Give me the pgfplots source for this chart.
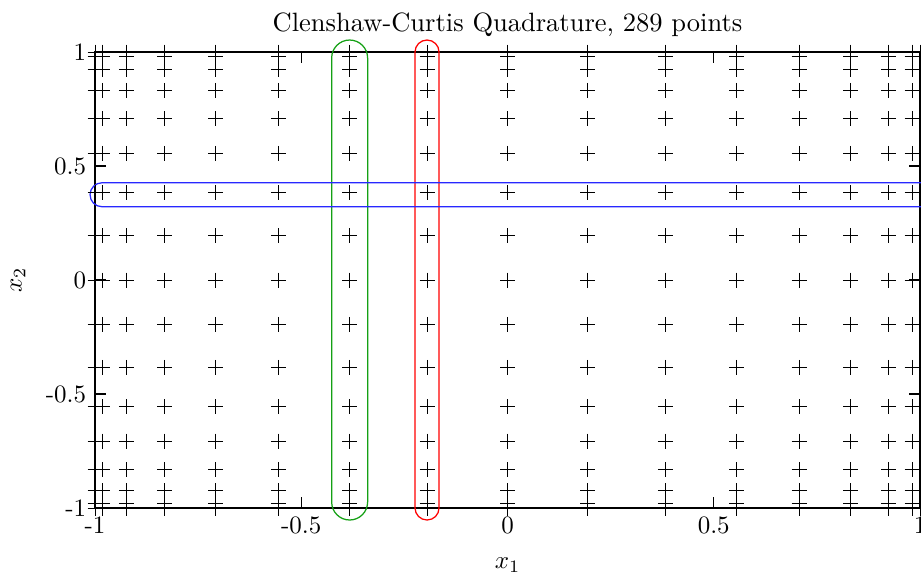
\documentclass[border=0pt]{standalone}
\usepackage{pgfplots}
\pgfplotsset{compat=1.18}
\definecolor{ccgreen}{RGB}{20,160,20}
\definecolor{ccred}{RGB}{255,0,0}
\definecolor{ccblue}{RGB}{40,40,255}
\begin{document}
\begin{tikzpicture}[x=1pt,y=1pt]
\begin{axis}[
  at={(0,0)}, anchor=south west,
  scale only axis, width=330pt, height=182.4pt,
  xmin=-1, xmax=1, ymin=-1, ymax=1,
  xtick={-1,-0.5,0,0.5,1}, xticklabels={-1,-0.5,0,0.5,1},
  ytick={-1,-0.5,0,0.5,1}, yticklabels={-1,-0.5,0,0.5,1},
  tick align=inside, major tick length=4.4pt,
  tick style={black, line width=0.5pt},
  axis line style={black, line width=0.6pt},
  title={\fontsize{10.6}{12}\selectfont Clenshaw-Curtis Quadrature, 289 points},
  every axis title/.style={at={(axis description cs:0.5,1)}, anchor=base, yshift=8.2pt, inner sep=0pt},
  xlabel={$x_1$},
  xlabel style={at={([yshift=-24.2pt]axis description cs:0.5,0)}, anchor=base, inner sep=0pt},
  ylabel={$x_2$},
  ylabel style={at={([xshift=-30.8pt]axis description cs:0,0.5)}, anchor=center, rotate=0, inner sep=0pt},
  clip=false,
]
\addplot[only marks, mark=+, mark size=3pt, black, line width=0.4pt] coordinates {
(-1,-1)(-1,-0.9808)(-1,-0.9239)(-1,-0.8315)(-1,-0.7071)(-1,-0.5556)(-1,-0.3827)(-1,-0.1951)(-1,0)(-1,0.1951)(-1,0.3827)(-1,0.5556)(-1,0.7071)(-1,0.8315)(-1,0.9239)(-1,0.9808)(-1,1)
(-0.9808,-1)(-0.9808,-0.9808)(-0.9808,-0.9239)(-0.9808,-0.8315)(-0.9808,-0.7071)(-0.9808,-0.5556)(-0.9808,-0.3827)(-0.9808,-0.1951)(-0.9808,0)(-0.9808,0.1951)(-0.9808,0.3827)(-0.9808,0.5556)(-0.9808,0.7071)(-0.9808,0.8315)(-0.9808,0.9239)(-0.9808,0.9808)(-0.9808,1)
(-0.9239,-1)(-0.9239,-0.9808)(-0.9239,-0.9239)(-0.9239,-0.8315)(-0.9239,-0.7071)(-0.9239,-0.5556)(-0.9239,-0.3827)(-0.9239,-0.1951)(-0.9239,0)(-0.9239,0.1951)(-0.9239,0.3827)(-0.9239,0.5556)(-0.9239,0.7071)(-0.9239,0.8315)(-0.9239,0.9239)(-0.9239,0.9808)(-0.9239,1)
(-0.8315,-1)(-0.8315,-0.9808)(-0.8315,-0.9239)(-0.8315,-0.8315)(-0.8315,-0.7071)(-0.8315,-0.5556)(-0.8315,-0.3827)(-0.8315,-0.1951)(-0.8315,0)(-0.8315,0.1951)(-0.8315,0.3827)(-0.8315,0.5556)(-0.8315,0.7071)(-0.8315,0.8315)(-0.8315,0.9239)(-0.8315,0.9808)(-0.8315,1)
(-0.7071,-1)(-0.7071,-0.9808)(-0.7071,-0.9239)(-0.7071,-0.8315)(-0.7071,-0.7071)(-0.7071,-0.5556)(-0.7071,-0.3827)(-0.7071,-0.1951)(-0.7071,0)(-0.7071,0.1951)(-0.7071,0.3827)(-0.7071,0.5556)(-0.7071,0.7071)(-0.7071,0.8315)(-0.7071,0.9239)(-0.7071,0.9808)(-0.7071,1)
(-0.5556,-1)(-0.5556,-0.9808)(-0.5556,-0.9239)(-0.5556,-0.8315)(-0.5556,-0.7071)(-0.5556,-0.5556)(-0.5556,-0.3827)(-0.5556,-0.1951)(-0.5556,0)(-0.5556,0.1951)(-0.5556,0.3827)(-0.5556,0.5556)(-0.5556,0.7071)(-0.5556,0.8315)(-0.5556,0.9239)(-0.5556,0.9808)(-0.5556,1)
(-0.3827,-1)(-0.3827,-0.9808)(-0.3827,-0.9239)(-0.3827,-0.8315)(-0.3827,-0.7071)(-0.3827,-0.5556)(-0.3827,-0.3827)(-0.3827,-0.1951)(-0.3827,0)(-0.3827,0.1951)(-0.3827,0.3827)(-0.3827,0.5556)(-0.3827,0.7071)(-0.3827,0.8315)(-0.3827,0.9239)(-0.3827,0.9808)(-0.3827,1)
(-0.1951,-1)(-0.1951,-0.9808)(-0.1951,-0.9239)(-0.1951,-0.8315)(-0.1951,-0.7071)(-0.1951,-0.5556)(-0.1951,-0.3827)(-0.1951,-0.1951)(-0.1951,0)(-0.1951,0.1951)(-0.1951,0.3827)(-0.1951,0.5556)(-0.1951,0.7071)(-0.1951,0.8315)(-0.1951,0.9239)(-0.1951,0.9808)(-0.1951,1)
(0,-1)(0,-0.9808)(0,-0.9239)(0,-0.8315)(0,-0.7071)(0,-0.5556)(0,-0.3827)(0,-0.1951)(0,0)(0,0.1951)(0,0.3827)(0,0.5556)(0,0.7071)(0,0.8315)(0,0.9239)(0,0.9808)(0,1)
(0.1951,-1)(0.1951,-0.9808)(0.1951,-0.9239)(0.1951,-0.8315)(0.1951,-0.7071)(0.1951,-0.5556)(0.1951,-0.3827)(0.1951,-0.1951)(0.1951,0)(0.1951,0.1951)(0.1951,0.3827)(0.1951,0.5556)(0.1951,0.7071)(0.1951,0.8315)(0.1951,0.9239)(0.1951,0.9808)(0.1951,1)
(0.3827,-1)(0.3827,-0.9808)(0.3827,-0.9239)(0.3827,-0.8315)(0.3827,-0.7071)(0.3827,-0.5556)(0.3827,-0.3827)(0.3827,-0.1951)(0.3827,0)(0.3827,0.1951)(0.3827,0.3827)(0.3827,0.5556)(0.3827,0.7071)(0.3827,0.8315)(0.3827,0.9239)(0.3827,0.9808)(0.3827,1)
(0.5556,-1)(0.5556,-0.9808)(0.5556,-0.9239)(0.5556,-0.8315)(0.5556,-0.7071)(0.5556,-0.5556)(0.5556,-0.3827)(0.5556,-0.1951)(0.5556,0)(0.5556,0.1951)(0.5556,0.3827)(0.5556,0.5556)(0.5556,0.7071)(0.5556,0.8315)(0.5556,0.9239)(0.5556,0.9808)(0.5556,1)
(0.7071,-1)(0.7071,-0.9808)(0.7071,-0.9239)(0.7071,-0.8315)(0.7071,-0.7071)(0.7071,-0.5556)(0.7071,-0.3827)(0.7071,-0.1951)(0.7071,0)(0.7071,0.1951)(0.7071,0.3827)(0.7071,0.5556)(0.7071,0.7071)(0.7071,0.8315)(0.7071,0.9239)(0.7071,0.9808)(0.7071,1)
(0.8315,-1)(0.8315,-0.9808)(0.8315,-0.9239)(0.8315,-0.8315)(0.8315,-0.7071)(0.8315,-0.5556)(0.8315,-0.3827)(0.8315,-0.1951)(0.8315,0)(0.8315,0.1951)(0.8315,0.3827)(0.8315,0.5556)(0.8315,0.7071)(0.8315,0.8315)(0.8315,0.9239)(0.8315,0.9808)(0.8315,1)
(0.9239,-1)(0.9239,-0.9808)(0.9239,-0.9239)(0.9239,-0.8315)(0.9239,-0.7071)(0.9239,-0.5556)(0.9239,-0.3827)(0.9239,-0.1951)(0.9239,0)(0.9239,0.1951)(0.9239,0.3827)(0.9239,0.5556)(0.9239,0.7071)(0.9239,0.8315)(0.9239,0.9239)(0.9239,0.9808)(0.9239,1)
(0.9808,-1)(0.9808,-0.9808)(0.9808,-0.9239)(0.9808,-0.8315)(0.9808,-0.7071)(0.9808,-0.5556)(0.9808,-0.3827)(0.9808,-0.1951)(0.9808,0)(0.9808,0.1951)(0.9808,0.3827)(0.9808,0.5556)(0.9808,0.7071)(0.9808,0.8315)(0.9808,0.9239)(0.9808,0.9808)(0.9808,1)
(1,-1)(1,-0.9808)(1,-0.9239)(1,-0.8315)(1,-0.7071)(1,-0.5556)(1,-0.3827)(1,-0.1951)(1,0)(1,0.1951)(1,0.3827)(1,0.5556)(1,0.7071)(1,0.8315)(1,0.9239)(1,0.9808)(1,1)
};
\draw[ccgreen, line width=0.5pt, rounded corners=7.2pt] (axis cs:-0.4263,-1.0526) rectangle (axis cs:-0.3391,1.0526);
\draw[ccred, line width=0.5pt, rounded corners=4.8pt] (axis cs:-0.2242,-1.0526) rectangle (axis cs:-0.1660,1.0526);
\draw[ccblue, line width=0.5pt, rounded corners=4.8pt] (axis cs:-1.012,0.3214) rectangle (axis cs:1.06,0.4266);
\end{axis}
\pgfresetboundingbox
\useasboundingbox (-38pt,-25.6pt) rectangle (330.4pt,203.2pt);
\end{tikzpicture}
\end{document}
